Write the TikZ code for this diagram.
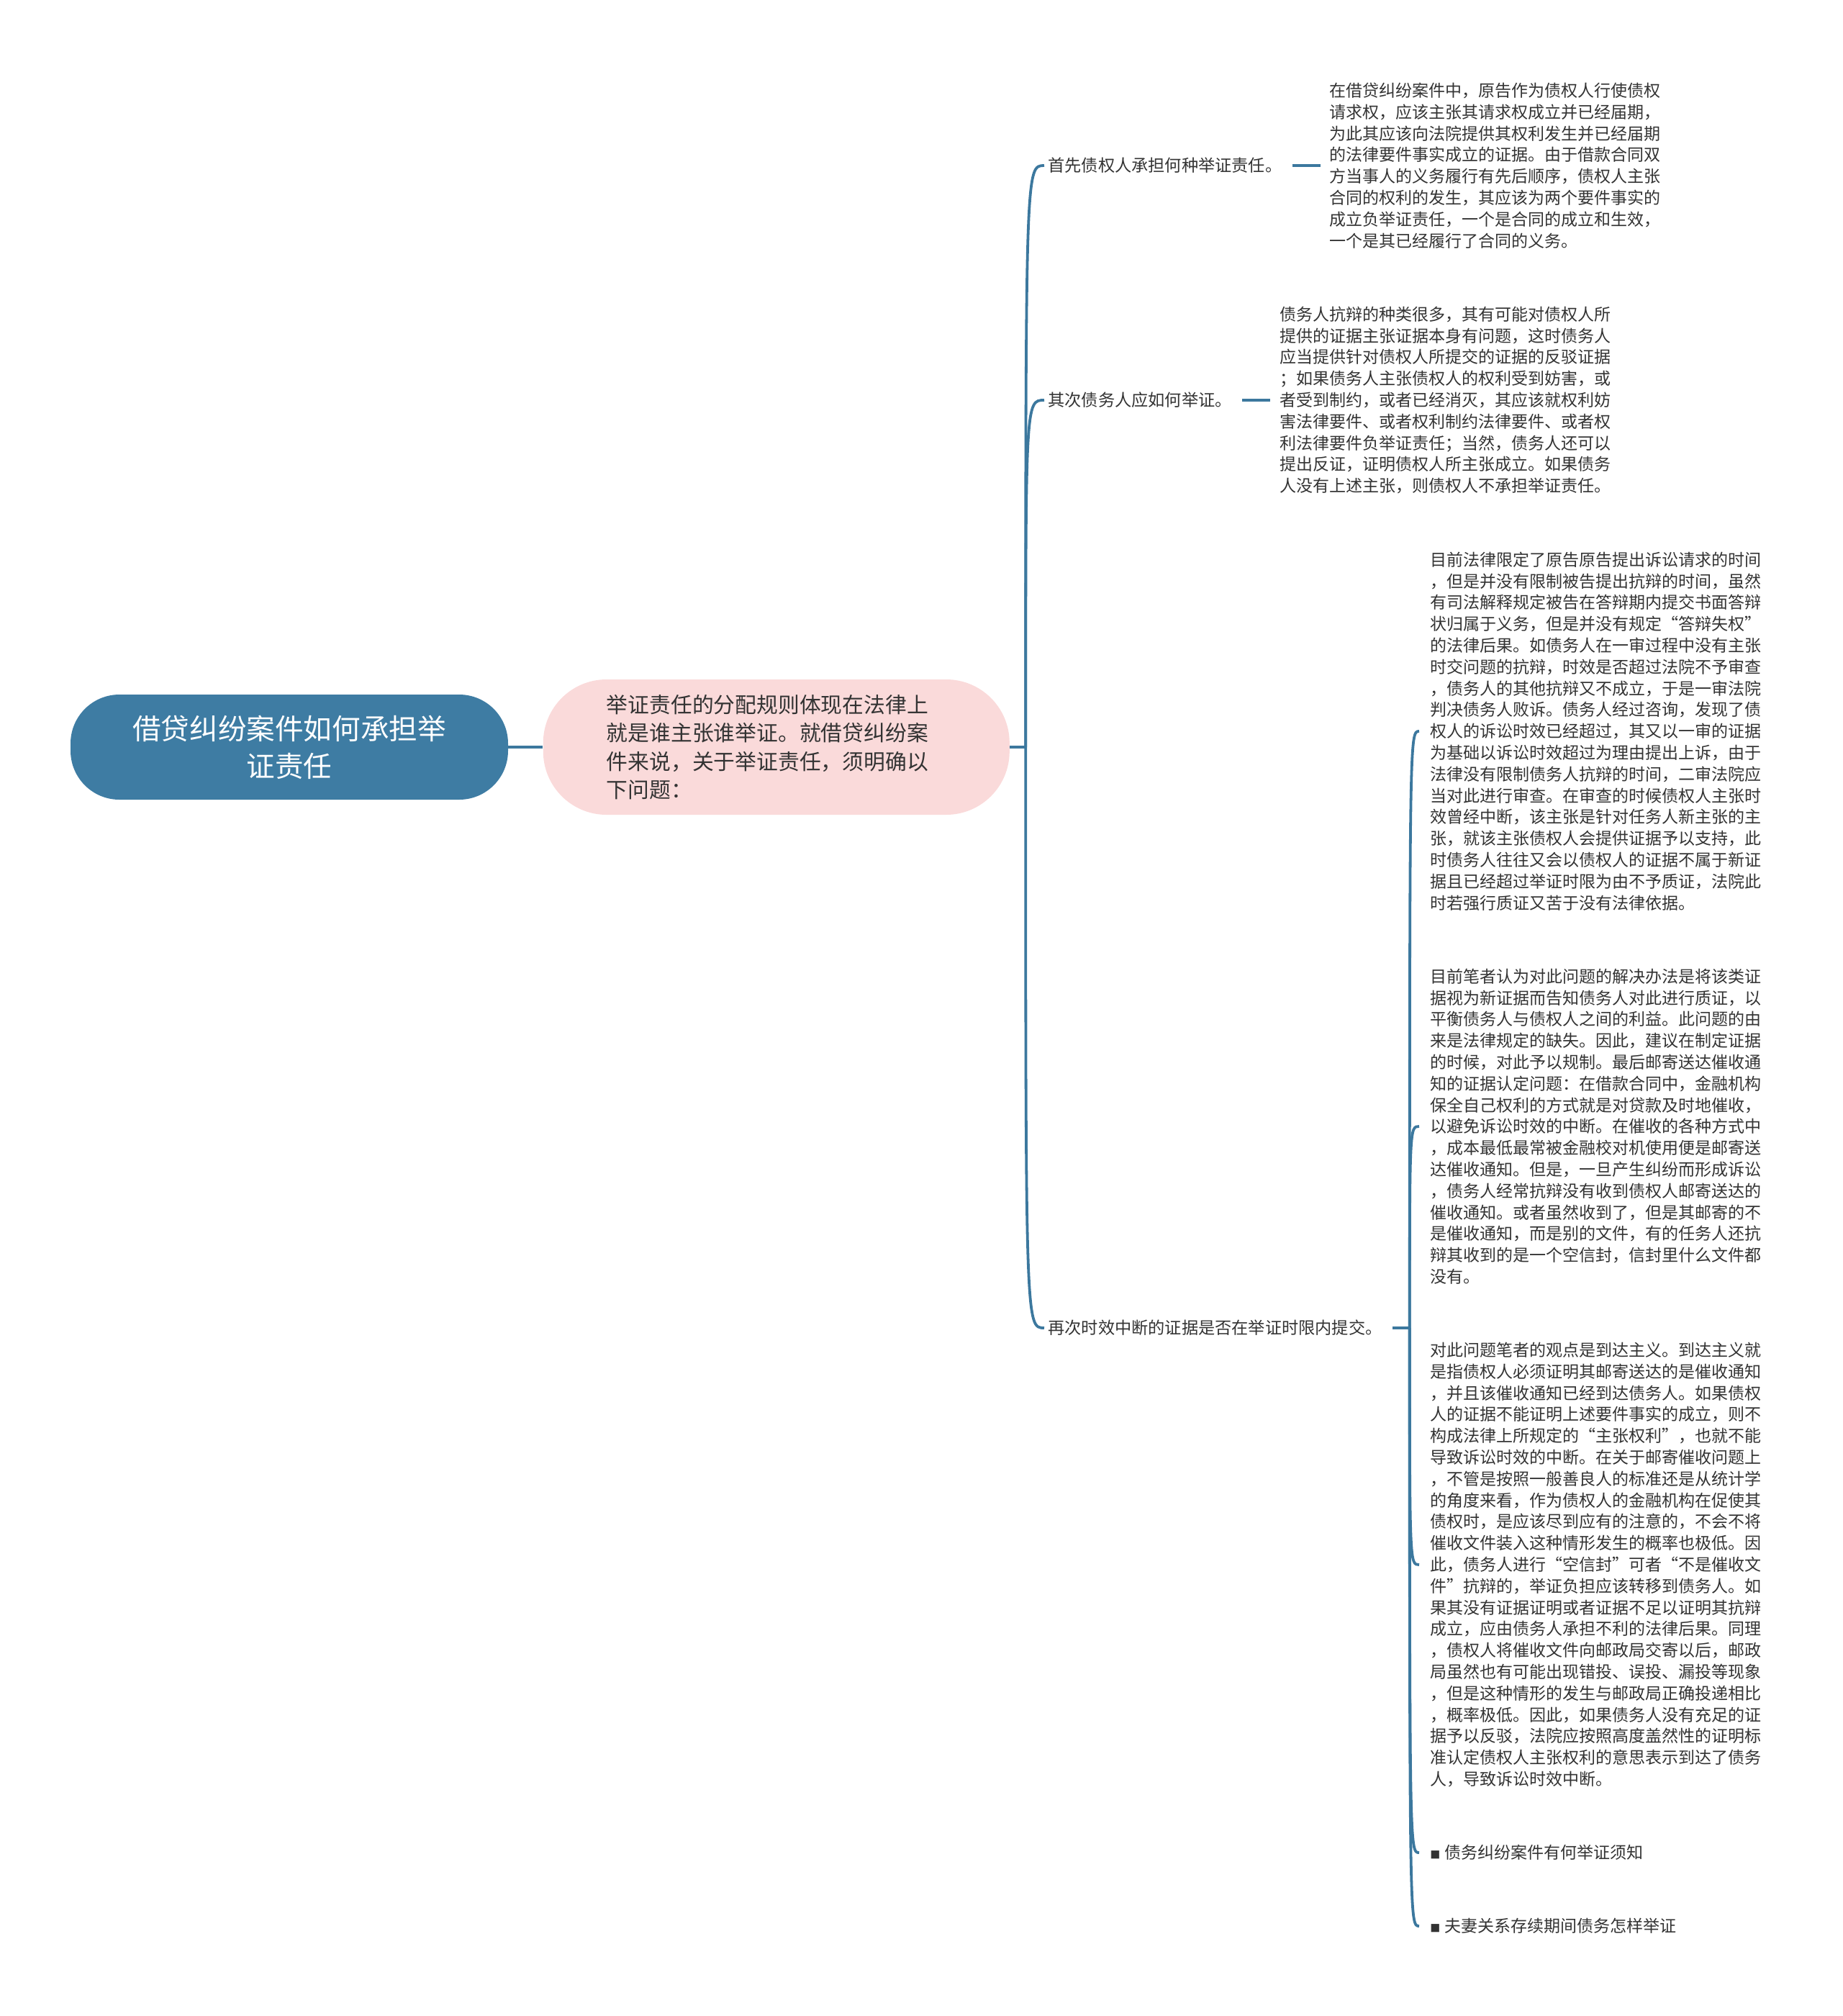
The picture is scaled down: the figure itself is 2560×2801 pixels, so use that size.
\documentclass[tikz,border=0pt]{standalone}
\usepackage{fontspec}
\setmainfont{Noto Sans CJK SC}
\usepackage{xcolor}
\usetikzlibrary{positioning}

\definecolor{rootblue}{HTML}{3E7CA3}
\definecolor{branchblue}{HTML}{3C789E}
\definecolor{topicpink}{HTML}{FADADA}
\definecolor{inkgray}{HTML}{333333}

\begin{document}
\begin{tikzpicture}[x=0.5pt, y=-0.5pt, node distance=24pt, text=inkgray, font=\fontsize{11.5}{14.9}\selectfont]
    \tikzstyle{rootnode} = [rectangle, fill=rootblue, rounded corners=34pt, minimum width=304pt, minimum height=73pt, align=center, text=white, font=\fontsize{19.8}{26}\selectfont]
    \tikzstyle{topicnode} = [rectangle, fill=topicpink, rounded corners=44pt, minimum width=324pt, minimum height=94pt, text width=236pt, align=left, font=\fontsize{14.9}{19.6}\selectfont]
    \tikzstyle{subnode} = [inner sep=0pt, anchor=west, font=\fontsize{11.6}{14}\selectfont]
    \tikzstyle{leafnode} = [inner sep=0pt, align=left]
    \tikzstyle{link} = [draw=branchblue, line width=1.9pt]
    \tikzstyle{twig} = [draw=branchblue, line width=1.6pt]
    \newcommand{\sq}{{\fontsize{7}{7}\selectfont ■}\hspace{3pt}}

    \useasboundingbox (0,0) rectangle (2560,2801);

    \node [rootnode] (root) at (402,1038) {借贷纠纷案件如何承担举\\证责任};
    \node [topicnode, right=24pt of root] (rule) {举证责任的分配规则体现在法律上\\就是谁主张谁举证。就借贷纠纷案\\件来说，关于举证责任，须明确以\\下问题：};
    \coordinate [right=11pt of rule] (hub);

    \node [subnode] (creditor) at (1456,230) {首先债权人承担何种举证责任。};
    \node [subnode] (debtor) at (1456,556) {其次债务人应如何举证。};
    \node [subnode] (interrupt) at (1456,1845) {再次时效中断的证据是否在举证时限内提交。};

    \node [leafnode, anchor=west, right=32.5pt of creditor] (creditordetail) {在借贷纠纷案件中，原告作为债权人行使债权\\请求权，应该主张其请求权成立并已经届期，\\为此其应该向法院提供其权利发生并已经届期\\的法律要件事实成立的证据。由于借款合同双\\方当事人的义务履行有先后顺序，债权人主张\\合同的权利的发生，其应该为两个要件事实的\\成立负举证责任，一个是合同的成立和生效，\\一个是其已经履行了合同的义务。};
    \node [leafnode, anchor=west, right=33pt of debtor] (debtordetail) {债务人抗辩的种类很多，其有可能对债权人所\\提供的证据主张证据本身有问题，这时债务人\\应当提供针对债权人所提交的证据的反驳证据\\；如果债务人主张债权人的权利受到妨害，或\\者受到制约，或者已经消灭，其应该就权利妨\\害法律要件、或者权利制约法律要件、或者权\\利法律要件负举证责任；当然，债务人还可以\\提出反证，证明债权人所主张成立。如果债务\\人没有上述主张，则债权人不承担举证责任。};
    \coordinate [right=19pt of interrupt] (fork);

    \node [leafnode, anchor=west] (appeal) at (1987,1016) {目前法律限定了原告原告提出诉讼请求的时间\\，但是并没有限制被告提出抗辩的时间，虽然\\有司法解释规定被告在答辩期内提交书面答辩\\状归属于义务，但是并没有规定“答辩失权”\\的法律后果。如债务人在一审过程中没有主张\\时交问题的抗辩，时效是否超过法院不予审查\\，债务人的其他抗辩又不成立，于是一审法院\\判决债务人败诉。债务人经过咨询，发现了债\\权人的诉讼时效已经超过，其又以一审的证据\\为基础以诉讼时效超过为理由提出上诉，由于\\法律没有限制债务人抗辩的时间，二审法院应\\当对此进行审查。在审查的时候债权人主张时\\效曾经中断，该主张是针对任务人新主张的主\\张，就该主张债权人会提供证据予以支持，此\\时债务人往往又会以债权人的证据不属于新证\\据且已经超过举证时限为由不予质证，法院此\\时若强行质证又苦于没有法律依据。};
    \node [leafnode, anchor=west] (mailing) at (1987,1565) {目前笔者认为对此问题的解决办法是将该类证\\据视为新证据而告知债务人对此进行质证，以\\平衡债务人与债权人之间的利益。此问题的由\\来是法律规定的缺失。因此，建议在制定证据\\的时候，对此予以规制。最后邮寄送达催收通\\知的证据认定问题：在借款合同中，金融机构\\保全自己权利的方式就是对贷款及时地催收，\\以避免诉讼时效的中断。在催收的各种方式中\\，成本最低最常被金融校对机使用便是邮寄送\\达催收通知。但是，一旦产生纠纷而形成诉讼\\，债务人经常抗辩没有收到债权人邮寄送达的\\催收通知。或者虽然收到了，但是其邮寄的不\\是催收通知，而是别的文件，有的任务人还抗\\辩其收到的是一个空信封，信封里什么文件都\\没有。};
    \node [leafnode, anchor=west] (arrival) at (1987,2174) {对此问题笔者的观点是到达主义。到达主义就\\是指债权人必须证明其邮寄送达的是催收通知\\，并且该催收通知已经到达债务人。如果债权\\人的证据不能证明上述要件事实的成立，则不\\构成法律上所规定的“主张权利”，也就不能\\导致诉讼时效的中断。在关于邮寄催收问题上\\，不管是按照一般善良人的标准还是从统计学\\的角度来看，作为债权人的金融机构在促使其\\债权时，是应该尽到应有的注意的，不会不将\\催收文件装入这种情形发生的概率也极低。因\\此，债务人进行“空信封”可者“不是催收文\\件”抗辩的，举证负担应该转移到债务人。如\\果其没有证据证明或者证据不足以证明其抗辩\\成立，应由债务人承担不利的法律后果。同理\\，债权人将催收文件向邮政局交寄以后，邮政\\局虽然也有可能出现错投、误投、漏投等现象\\，但是这种情形的发生与邮政局正确投递相比\\，概率极低。因此，如果债务人没有充足的证\\据予以反驳，法院应按照高度盖然性的证明标\\准认定债权人主张权利的意思表示到达了债务\\人，导致诉讼时效中断。};
    \node [leafnode, anchor=west] (notice) at (1987,2574) {\sq 债务纠纷案件有何举证须知};
    \node [leafnode, anchor=west] (spouse) at (1987,2676) {\sq 夫妻关系存续期间债务怎样举证};

    % root to topic
    \draw [link] (root.east) -- (rule.west);
    \draw [link] (rule.east) -- (hub);

    % topic to the three questions
    \foreach \q in {creditor, debtor, interrupt}
        \draw [link, shorten >=2.5pt] (hub) .. controls (hub |- \q.west) .. (\q.west);

    % questions to answers
    \draw [twig, shorten <=7pt, shorten >=6pt] (creditor.east) -- (creditordetail.west);
    \draw [twig, shorten <=7pt, shorten >=6.5pt] (debtor.east) -- (debtordetail.west);
    \draw [twig, shorten <=7pt] (interrupt.east) -- (fork);
    \foreach \a in {appeal, mailing, arrival, notice, spouse}
        \draw [link, shorten >=7.5pt] (fork) .. controls (fork |- \a.west) .. (\a.west);
\end{tikzpicture}
\end{document}
